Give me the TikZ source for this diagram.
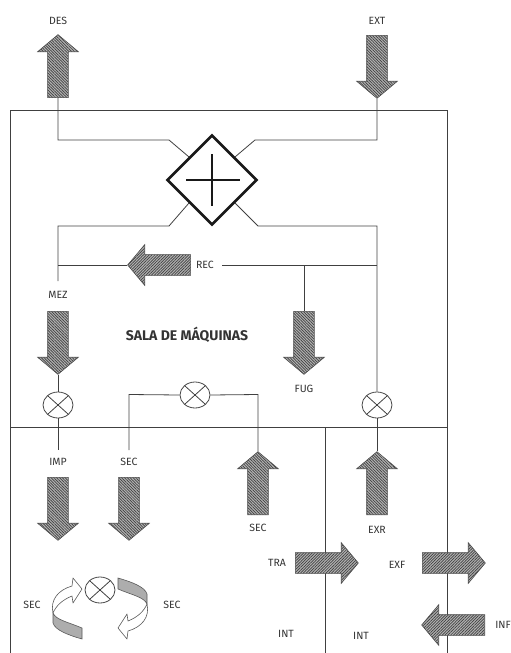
\documentclass[tikz,border=0pt]{standalone}
\usepackage{fontspec}
\setmainfont{Fira Sans}
\usetikzlibrary{shapes.arrows,shapes.geometric,shapes.misc,patterns.meta,calc}
\tikzset{
  wire/.style={draw=black!75,line width=.8pt},
  flow/.style={single arrow,draw=black!70,line width=.6pt,minimum height=63pt,minimum width=0pt,
    single arrow head extend=10pt,single arrow tip angle=100,inner xsep=0pt,inner ysep=10pt,anchor=tail,
    preaction={fill=black!30}},
  flowv/.style={flow,pattern={Lines[angle=-45,distance=2pt,line width=.7pt]},pattern color=black!75},
  flowh/.style={flow,pattern={Lines[angle=45,distance=2pt,line width=.7pt]},pattern color=black!75},
  valve/.style={ellipse,draw=black!72,line width=.8pt,minimum width=30pt,minimum height=26pt,inner sep=0pt},
  lab/.style={font=\fontsize{10.5}{12}\selectfont,text=black!80,inner sep=0pt},
  band/.style={draw=black!65,line width=.6pt,fill=black!32},
  curl/.style={draw=black!65,line width=.6pt,fill=white,line join=round}
}
\begin{document}
\begin{tikzpicture}[x=1pt,y=-1pt]
\useasboundingbox (0,0) rectangle (511,653);
% enclosure
\draw[wire] (10.5,653) -- (10.5,110.5) -- (447.5,110.5) -- (447.5,653);
\draw[wire] (10.5,427) -- (447.5,427);
\draw[wire] (325.5,427) -- (325.5,653);
% arrows
\node[flowv,rotate=90] (des) at (58,98) {};
\node[flowv,rotate=-90] (ext) at (377,35) {};
\node[flowv,rotate=-90] (mez) at (58,311) {};
\node[flowh,rotate=180] (rec) at (191,265) {};
\node[flowv,rotate=-90] (fug) at (304,311) {};
\node[flowv,rotate=-90] (imp) at (58,477) {};
\node[flowv,rotate=-90] (secd) at (129,477) {};
\node[flowv,rotate=90] (secu) at (258,515) {};
\node[flowv,rotate=90] (exr) at (377,515) {};
\node[flowh] (tra) at (295,563) {};
\node[flowh] (exf) at (422,563) {};
\node[flowh,rotate=180] (inf) at (485,625) {};
% mixer
\node[diamond,draw=black!90,line width=2.6pt,minimum width=90pt,minimum height=90pt,inner sep=0pt,fill=white] (dia) at (212,180) {};
\coordinate (cl) at (186,180);\coordinate (cr) at (240,180);
\coordinate (ct) at (212,154);\coordinate (cb) at (212,206);
\draw[black!90,line width=1.7pt] (cl) -- (cr) (ct) -- (cb);
% valves
\node[valve] (v1) at (58,405) {};
\node[valve] (v2) at (195,395) {};
\node[valve] (v3) at (377,405) {};
\node[valve] (v4) at (100,590) {};
\foreach \v in {v1,v2,v3,v4}{
  \draw[wire] ($(\v.center)+(-10,-9)$) -- ($(\v.center)+(10,9)$) ($(\v.center)+(-10,9)$) -- ($(\v.center)+(10,-9)$);
}
% connectors
\coordinate (b1) at (58,140);\coordinate (b1a) at (169,140);
\coordinate (b2) at (377,140);\coordinate (b2a) at (255,140);
\coordinate (b3) at (58,226);\coordinate (b3a) at (169,226);
\coordinate (b4) at (377,226);\coordinate (b4a) at (258,226);
\draw[wire] (des.tail) -- (b1) -- (b1a) -- (dia.north west);
\draw[wire] (ext.tip) -- (b2) -- (b2a) -- (dia.north east);
\draw[wire] (dia.south west) -- (b3a) -- (b3) -- (58,281);
\draw[wire] (dia.south east) -- (b4a) -- (b4) -- (v3.north);
\coordinate (j1) at (58,265);\coordinate (j2) at (222,265);\coordinate (j3) at (377,265);\coordinate (j4) at (304,265);
\draw[wire] (j1) -- (rec.tip);
\draw[wire] (j2) -- (j3);
\draw[wire] (j4) -- (fug.tail);
\draw[wire] (mez.tip) -- (v1.north);
\coordinate (e1) at (58,450);\coordinate (e2) at (129,394.5);\coordinate (e3) at (129,450);\coordinate (e4) at (258,394.5);
\draw[wire] (v1.south) -- (e1);
\draw[wire] (v2.west) -- (e2) -- (e3);
\draw[wire] (v2.east) -- (e4) -- (secu.tip);
\draw[wire] (v3.south) -- (exr.tip);
% circulation arrows
\newcommand{\curlpair}{%
  \draw[band] (53,613) .. controls (56,620) and (68,622) .. (82,628) -- (82,639) .. controls (68,635) and (55,630) .. (53,623) -- cycle;
  \draw[curl] (53,613) .. controls (50,600) and (58,590) .. (72,586) -- (73,578) -- (82,589) -- (73,603) -- (72,596)
     .. controls (62,600) and (56,606) .. (53,613) -- cycle;
}
\curlpair
\begin{scope}[shift={(200,1217)},xscale=-1,yscale=-1]
\curlpair
\end{scope}
% labels
\node[lab] (l1) at (58,21) {DES};
\node[lab] (l2) at (377,21) {EXT};
\node[lab] (l3) at (205,265) {REC};
\node[lab] (l4) at (58,295) {MEZ};
\node[lab] (l5) at (304,389) {FUG};
\node[lab,font=\fontsize{14}{16}\selectfont\bfseries] (l6) at (187,335) {SALA DE MÁQUINAS};
\node[lab] (l7) at (58,462) {IMP};
\node[lab] (l8) at (129,462) {SEC};
\node[lab] (l9) at (258,528) {SEC};
\node[lab] (l10) at (377,530) {EXR};
\node[lab] (l11) at (277,563) {TRA};
\node[lab] (l12) at (397,565) {EXF};
\node[lab] (l13) at (286,634) {INT};
\node[lab] (l14) at (361,636) {INT};
\node[lab] (l15) at (503,625) {INF};
\node[lab] (l16) at (32,605) {SEC};
\node[lab] (l17) at (172,605) {SEC};
\end{tikzpicture}
\end{document}
